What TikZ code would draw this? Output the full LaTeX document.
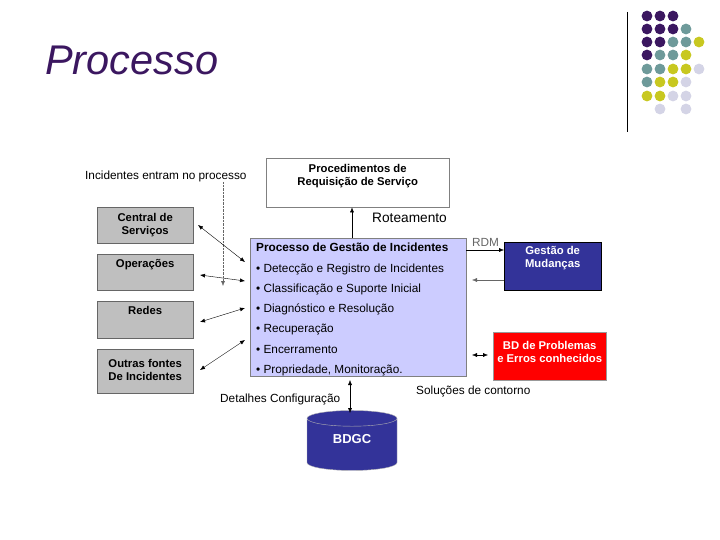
\documentclass[tikz,border=0pt]{standalone}
\usepackage{fontspec}
\setmainfont{Liberation Sans}
\usetikzlibrary{arrows.meta,shapes.geometric}
\definecolor{dP}{HTML}{3B1760}\definecolor{dT}{HTML}{6E9A9A}\definecolor{dY}{HTML}{C8C820}\definecolor{dL}{HTML}{D4D4E6}
\definecolor{navy}{HTML}{333399}\definecolor{lav}{HTML}{CCCCFF}
\begin{document}
\begin{tikzpicture}[x=1pt,y=-1pt,
 bfs/.style={font=\bfseries\fontsize{11.3}{13}\selectfont},
 gbox/.style={draw=black!60,fill=black!25,minimum width=96pt,align=center,bfs,inner sep=2pt},
 arr/.style={-{Latex[length=5pt,width=4pt]},thin},
 darr/.style={{Latex[length=5pt,width=4pt]}-{Latex[length=5pt,width=4pt]},thin},
 txt/.style={font=\fontsize{11.8}{13}\selectfont,inner sep=0pt}]
\useasboundingbox (0,0) rectangle (720,540);
\node[anchor=base west,font=\itshape\fontsize{41.5}{44}\selectfont,text=dP,inner sep=0pt] (title) at (45,75) {Processo};
% dots
\def\dotrow#1#2{\foreach \c [count=\i from 0] in {#2}{\fill[\c] (647+13*\i,#1) circle (5.4);}}
\dotrow{16}{dP,dP,dP}
\dotrow{29}{dP,dP,dP,dT}
\dotrow{42}{dP,dP,dT,dT,dY}
\dotrow{55}{dP,dT,dT,dY}
\dotrow{69}{dT,dT,dY,dY,dL}
\dotrow{82}{dT,dY,dY,dL}
\dotrow{96}{dY,dY,dL,dL}
\fill[dL] (660,109) circle (5.4); \fill[dL] (686,109) circle (5.4);
\coordinate (v1) at (627,12); \coordinate (v2) at (627,132);
\draw[semithick] (v1) -- (v2);
% boxes
\node[draw=black!50,fill=white,minimum width=183pt,minimum height=49pt,anchor=north west,align=center,bfs,text depth=16pt] (proc) at (266,158) {Procedimentos de\\Requisição de Serviço};
\node[draw=black!50,fill=lav,minimum width=216pt,minimum height=138pt,anchor=north west] (main) at (250,238) {};
\node[anchor=north west,align=left,inner sep=0pt,font=\fontsize{11.8}{20.3}\selectfont] at (256,243) {\textbf{Processo de Gestão de Incidentes}\\
\textbullet\ Detecção e Registro de Incidentes\\
\textbullet\ Classificação e Suporte Inicial\\
\textbullet\ Diagnóstico e Resolução\\
\textbullet\ Recuperação\\
\textbullet\ Encerramento\\
\textbullet\ Propriedade, Monitoração.};
\node[gbox,anchor=north west,minimum height=36pt] (cs) at (97,207) {Central de\\Serviços};
\node[gbox,anchor=north west,minimum height=36pt,text depth=18pt] (op) at (97,254) {Operações};
\node[gbox,anchor=north west,minimum height=37pt,text depth=18pt] (re) at (97,301) {Redes};
\node[gbox,anchor=north west,minimum height=44pt,text depth=2pt] (ou) at (97,349) {Outras fontes\\De Incidentes};
\node[draw=black,fill=navy,text=white,anchor=north west,minimum width=97pt,minimum height=48pt,align=center,bfs,text depth=18pt] (gm) at (504,242) {Gestão de\\Mudanças};
\node[draw=black!40,fill=red,text=white,anchor=north west,minimum width=113pt,minimum height=48pt,align=center,bfs,text depth=8pt] (bd) at (493,332) {BD de Problemas\\e Erros conhecidos};
\node[cylinder,shape border rotate=90,draw=black!30,fill=navy,text=white,minimum width=90pt,minimum height=60pt,aspect=0.35,font=\bfseries\fontsize{13}{14}\selectfont,text depth=14pt] (bdgc) at (352,446) {BDGC};
% texts
\node[txt,anchor=west] (inc) at (85,176) {Incidentes entram no processo};
\node[txt,anchor=west] (rot) at (372,218) {\fontsize{13.7}{15}\selectfont Roteamento};
\node[txt,anchor=west,text=black!60] (rdm) at (472,242) {RDM};
\node[txt,anchor=west] (sol) at (416,391) {Soluções de contorno};
\node[txt,anchor=west] (det) at (220,399) {Detalhes Configuração};
% connectors
\coordinate (d1) at (223,182); \coordinate (d2) at (223,286);
\draw[densely dotted,black!60,-{Latex[length=5pt,width=4pt]}] (d1) -- (d2);
\draw[arr] (main.north -| 352,0) -- (proc.south -| 352,0);
\coordinate (c1) at (198,225); \coordinate (c2) at (245,262);
\coordinate (o1) at (200,275); \coordinate (o2) at (245,281);
\coordinate (r1) at (200,322); \coordinate (r2) at (245,308);
\coordinate (u1) at (200,370); \coordinate (u2) at (245,340);
\draw[darr] (c1) -- (c2); \draw[darr] (o1) -- (o2);
\draw[darr] (r1) -- (r2); \draw[darr] (u1) -- (u2);
\coordinate (m1) at (466,250);
\draw[arr] (m1) -- (m1 -| gm.west);
\coordinate (m2) at (472,280);
\draw[arr,black!60] (m2 -| gm.west) -- (m2);
\coordinate (b1) at (472,355); \coordinate (b2) at (488,355);
\draw[darr] (b1) -- (b2);
\coordinate (g1) at (350,380); \coordinate (g2) at (350,413);
\draw[darr] (g1) -- (g2);
\end{tikzpicture}
\end{document}
